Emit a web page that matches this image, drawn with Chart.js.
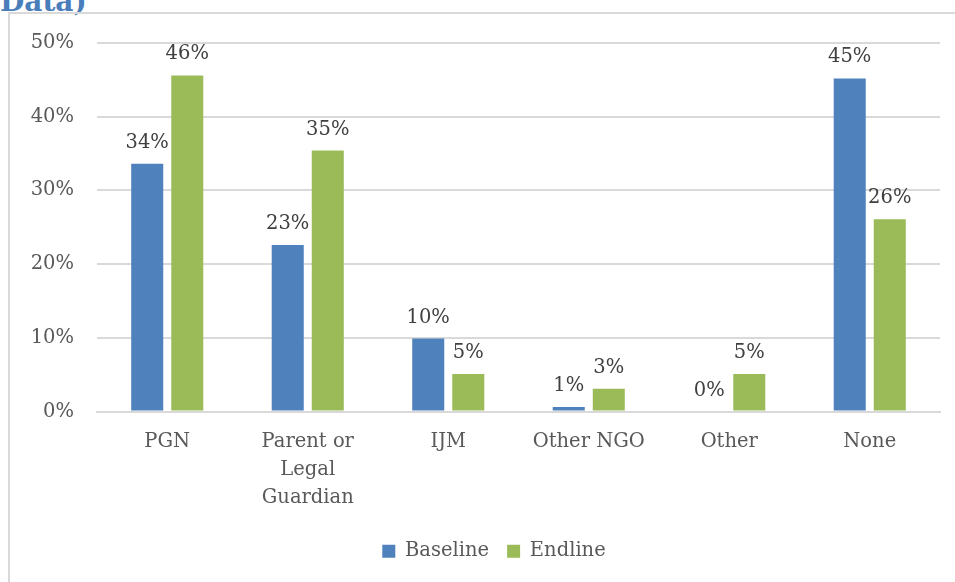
<!DOCTYPE html>
<html>
<head>
<meta charset="utf-8">
<script src="https://cdn.jsdelivr.net/npm/chart.js@4"></script>
<style>
  html, body { margin: 0; padding: 0; overflow: hidden; background: #fff; }
  #wrap { position: relative; width: 955px; height: 582px; }
  #frame {
    position: absolute; left: 8px; top: 12px; width: 1000px; height: 1000px;
    border-top: 2px solid #d9d9d9; border-left: 2px solid #d9d9d9;
  }
  #heading {
    position: absolute; left: 0; top: -15px; line-height: 28px;
    font: bold 28px "DejaVu Serif", serif; color: #4a7ebb; white-space: nowrap;
  }
  #chart { position: absolute; left: 0; top: 0; }
</style>
</head>
<body>
<div id="wrap">
  <div id="heading">Data)</div>
  <div id="frame"></div>
  <canvas id="chart" width="955" height="582"></canvas>
</div>
<script>
// Kategorien und Werte (Anteil in %)
const categories = ['PGN', ['Parent or', 'Legal', 'Guardian'], 'IJM', 'Other NGO', 'Other', 'None'];
const baseline = [33.6, 22.6, 9.9, 0.6, 0, 45.2];
const endline = [45.6, 35.4, 5.1, 3.1, 5.1, 26.1];
const yTicks = [0, 10, 20, 30, 40, 50];

const FONT = '"DejaVu Serif", serif';

// Prozentwerte über den Balken zeichnen
const barValueLabels = {
    id: 'barValueLabels',
    afterDatasetsDraw(chart) {
        const ctx = chart.ctx;
        ctx.save();
        ctx.font = '19.5px ' + FONT;
        ctx.fillStyle = '#404040';
        ctx.textAlign = 'center';
        ctx.textBaseline = 'alphabetic';
        chart.data.datasets.forEach((ds, i) => {
            chart.getDatasetMeta(i).data.forEach((bar, j) => {
                ctx.fillText(Math.round(ds.data[j]) + '%', bar.x, bar.y - 16);
            });
        });
        ctx.restore();
    }
};

// Legende etwas nach rechts schieben (mittig unter dem Rahmen statt unter der Zeichenfläche)
const legendShift = {
    id: 'legendShift',
    afterLayout(chart) {
        if (chart.legend) {
            chart.legend.left += 24;
            chart.legend.right += 24;
        }
    }
};

new Chart(document.getElementById('chart'), {
    type: 'bar',
    data: {
        labels: categories,
        datasets: [{
            label: 'Baseline',
            data: baseline,
            backgroundColor: '#4f81bd',
            categoryPercentage: 0.57,
            barPercentage: 0.8
        }, {
            label: 'Endline',
            data: endline,
            backgroundColor: '#9bbb59',
            categoryPercentage: 0.57,
            barPercentage: 0.8
        }]
    },
    options: {
        responsive: false,
        animation: false,
        layout: { padding: { top: 43, right: 15, left: 0, bottom: 11 } },
        plugins: {
            legend: {
                position: 'bottom',
                labels: {
                    font: { family: FONT, size: 19.5 },
                    color: '#595959',
                    boxWidth: 13,
                    boxHeight: 13,
                    padding: 18
                }
            },
            tooltip: { enabled: false }
        },
        scales: {
            x: {
                grid: { display: false },
                border: { color: '#d9d9d9', width: 2 },
                ticks: {
                    font: { family: FONT, size: 19.5, lineHeight: 1.44 },
                    color: '#595959',
                    maxRotation: 0,
                    autoSkip: false,
                    padding: 8
                },
                afterFit(scale) { scale.height = 112; }
            },
            y: {
                min: 0,
                max: 50,
                afterBuildTicks(scale) { scale.ticks = yTicks.map(v => ({ value: v })); },
                grid: { color: '#d9d9d9', lineWidth: 2, drawTicks: false },
                border: { display: false },
                ticks: {
                    font: { family: FONT, size: 19.5 },
                    color: '#595959',
                    padding: 23,
                    callback: v => v + '%'
                },
                afterFit(scale) { scale.width = 97; }
            }
        }
    },
    plugins: [barValueLabels, legendShift]
});
</script>
</body>
</html>
